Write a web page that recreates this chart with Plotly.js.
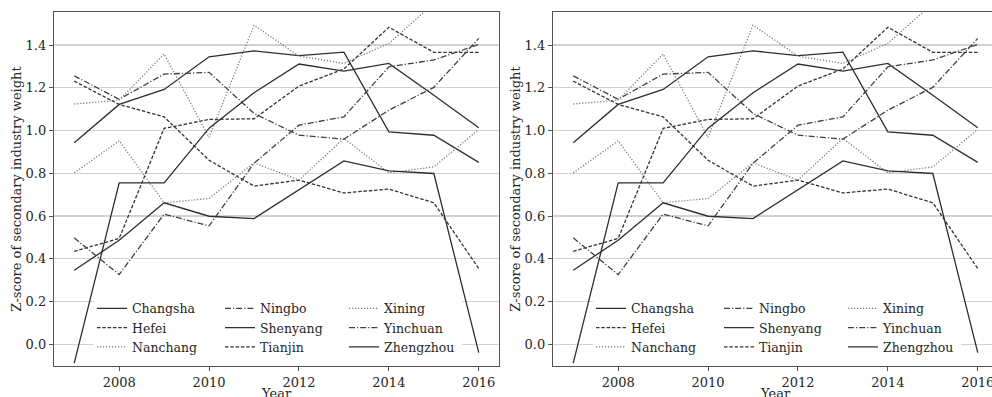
<!DOCTYPE html>
<html>
<head>
<meta charset="utf-8">
<script src="https://cdn.plot.ly/plotly-3.0.1.min.js"></script>
<style>
html, body { margin: 0; padding: 0; overflow: hidden; background: #fff; }
#chart { width: 1000px; height: 410px; }
</style>
</head>
<body>
<div id="chart"></div>
<script>
// ---- data ----
const years = [2007, 2008, 2009, 2010, 2011, 2012, 2013, 2014, 2015, 2016];
const cities = ["Changsha", "Hefei", "Nanchang", "Ningbo", "Shenyang", "Tianjin", "Xining", "Yinchuan", "Zhengzhou"];
const changsha  = [0.943, 1.122, 1.192, 1.345, 1.373, 1.350, 1.367, 0.994, 0.978, 0.851];
const hefei     = [1.231, 1.122, 1.064, 0.861, 0.740, 0.768, 0.708, 0.726, 0.662, 0.354];
const nanchang  = [0.802, 0.952, 0.662, 0.682, 0.849, 0.768, 0.963, 0.802, 0.830, 1.005];
const ningbo    = [1.256, 1.146, 1.264, 1.272, 1.080, 0.978, 0.960, 1.095, 1.202, 1.431];
const shenyang  = [0.346, 0.487, 0.662, 0.599, 0.588, 0.723, 0.858, 0.811, 0.799, -0.039];
const tianjin   = [0.435, 0.495, 1.010, 1.052, 1.055, 1.208, 1.288, 1.483, 1.366, 1.366];
const xining    = [1.124, 1.142, 1.358, 0.968, 1.493, 1.348, 1.314, 1.408, 1.594, 1.760];
const yinchuan  = [0.498, 0.326, 0.609, 0.554, 0.847, 1.025, 1.064, 1.298, 1.330, 1.403];
const zhengzhou = [-0.088, 0.755, 0.755, 1.011, 1.177, 1.311, 1.278, 1.314, 1.165, 1.013];
const seriesValues = [changsha, hefei, nanchang, ningbo, shenyang, tianjin, xining, yinchuan, zhengzhou];
const yTicks = [0.0, 0.2, 0.4, 0.6, 0.8, 1.0, 1.2, 1.4];
const xTicks = [2008, 2010, 2012, 2014, 2016];
const yTitle = "Z-score of secondary industry weight";
const xTitle = "Year";

// ---- styles ----
const FONT = "DejaVu Serif, serif";
const TXT = "#262626";
const styleCycle = [
  {dash: "solid", color: "#2e2e2e"},
  {dash: "3.5px,1.8px", color: "#333333"},
  {dash: "1.2px,1.8px", color: "#7a7a7a"},
  {dash: "6px,2px,1.2px,2px", color: "#404040"}
];

const traces = [];
const panels = [
  {xa: "x", ya: "y", legends: ["legend", "legend2", "legend3"]},
  {xa: "x2", ya: "y2", legends: ["legend4", "legend5", "legend6"]}
];
panels.forEach(p => {
  cities.forEach((c, i) => {
    const st = styleCycle[i % 4];
    traces.push({
      type: "scatter", mode: "lines",
      x: years, y: seriesValues[i], name: c,
      xaxis: p.xa, yaxis: p.ya,
      legend: p.legends[Math.floor(i / 3)],
      line: {color: st.color, width: 1.3, dash: st.dash},
      hoverinfo: "skip"
    });
  });
});

const W = 1000, H = 410, ML = 54, MR = 2, MT = 12, MB = 44;
const PW = W - ML - MR, PH = H - MT - MB;
const px = v => (v - ML) / PW;
const py = v => (H - MB - v) / PH;
const leftDomain = [0, px(499)];
const rightDomain = [px(553), 1];

function xax(domain, anchor) {
  return {
    domain: domain, anchor: anchor, range: [2006.55, 2016.45],
    tickvals: xTicks, ticktext: xTicks.map(String),
    ticks: "outside", ticklen: 4, tickwidth: 1, tickcolor: "#555",
    showline: true, mirror: true, linecolor: "#555", linewidth: 1.2,
    showgrid: false, zeroline: false,
    tickfont: {family: FONT, size: 13, color: TXT}
  };
}
function yax(anchor) {
  return {
    anchor: anchor, range: [-0.1016, 1.5545],
    tickvals: yTicks, ticktext: yTicks.map(v => v.toFixed(1)),
    ticks: "outside", ticklen: 4, tickwidth: 1, tickcolor: "#555",
    showline: true, mirror: true, linecolor: "#555", linewidth: 1.2,
    showgrid: true, gridcolor: "#d2d2d2", gridwidth: 1.1, zeroline: false,
    tickfont: {family: FONT, size: 13, color: TXT},
    title: {text: yTitle, font: {family: FONT, size: 13, color: TXT}, standoff: 1}
  };
}
function leg(xPix) {
  return {
    x: px(xPix), y: 0.204, xanchor: "left", yanchor: "top",
    bgcolor: "rgba(0,0,0,0)", borderwidth: 0,
    font: {family: FONT, size: 12.5, color: TXT},
    itemwidth: 30, tracegroupgap: 0
  };
}
const legBox = (xr, yr) => ({
  type: "rect", xref: xr + " domain", yref: yr + " domain",
  x0: 0.09, x1: 0.917, y0: 0.017, y1: 0.206,
  fillcolor: "#ffffff", line: {width: 0}, layer: "above"
});
const xTitleAnn = xr => ({
  xref: xr + " domain", yref: "paper", x: 0.5, y: py(393),
  xanchor: "center", yanchor: "middle", showarrow: false,
  text: xTitle, font: {family: FONT, size: 13, color: TXT}
});

const layout = {
  width: W, height: H,
  margin: {l: ML, r: MR, t: MT, b: MB},
  paper_bgcolor: "#ffffff", plot_bgcolor: "#ffffff",
  font: {family: FONT, size: 13, color: TXT},
  xaxis: xax(leftDomain, "y"),
  yaxis: yax("x"),
  xaxis2: xax(rightDomain, "y2"),
  yaxis2: yax("x2"),
  legend: leg(92), legend2: leg(220), legend3: leg(344),
  legend4: leg(591), legend5: leg(719), legend6: leg(843),
  shapes: [legBox("x", "y"), legBox("x2", "y2")],
  annotations: [xTitleAnn("x"), xTitleAnn("x2")],
  showlegend: true
};

Plotly.newPlot("chart", traces, layout, {displayModeBar: false, staticPlot: true});
</script>
</body>
</html>
